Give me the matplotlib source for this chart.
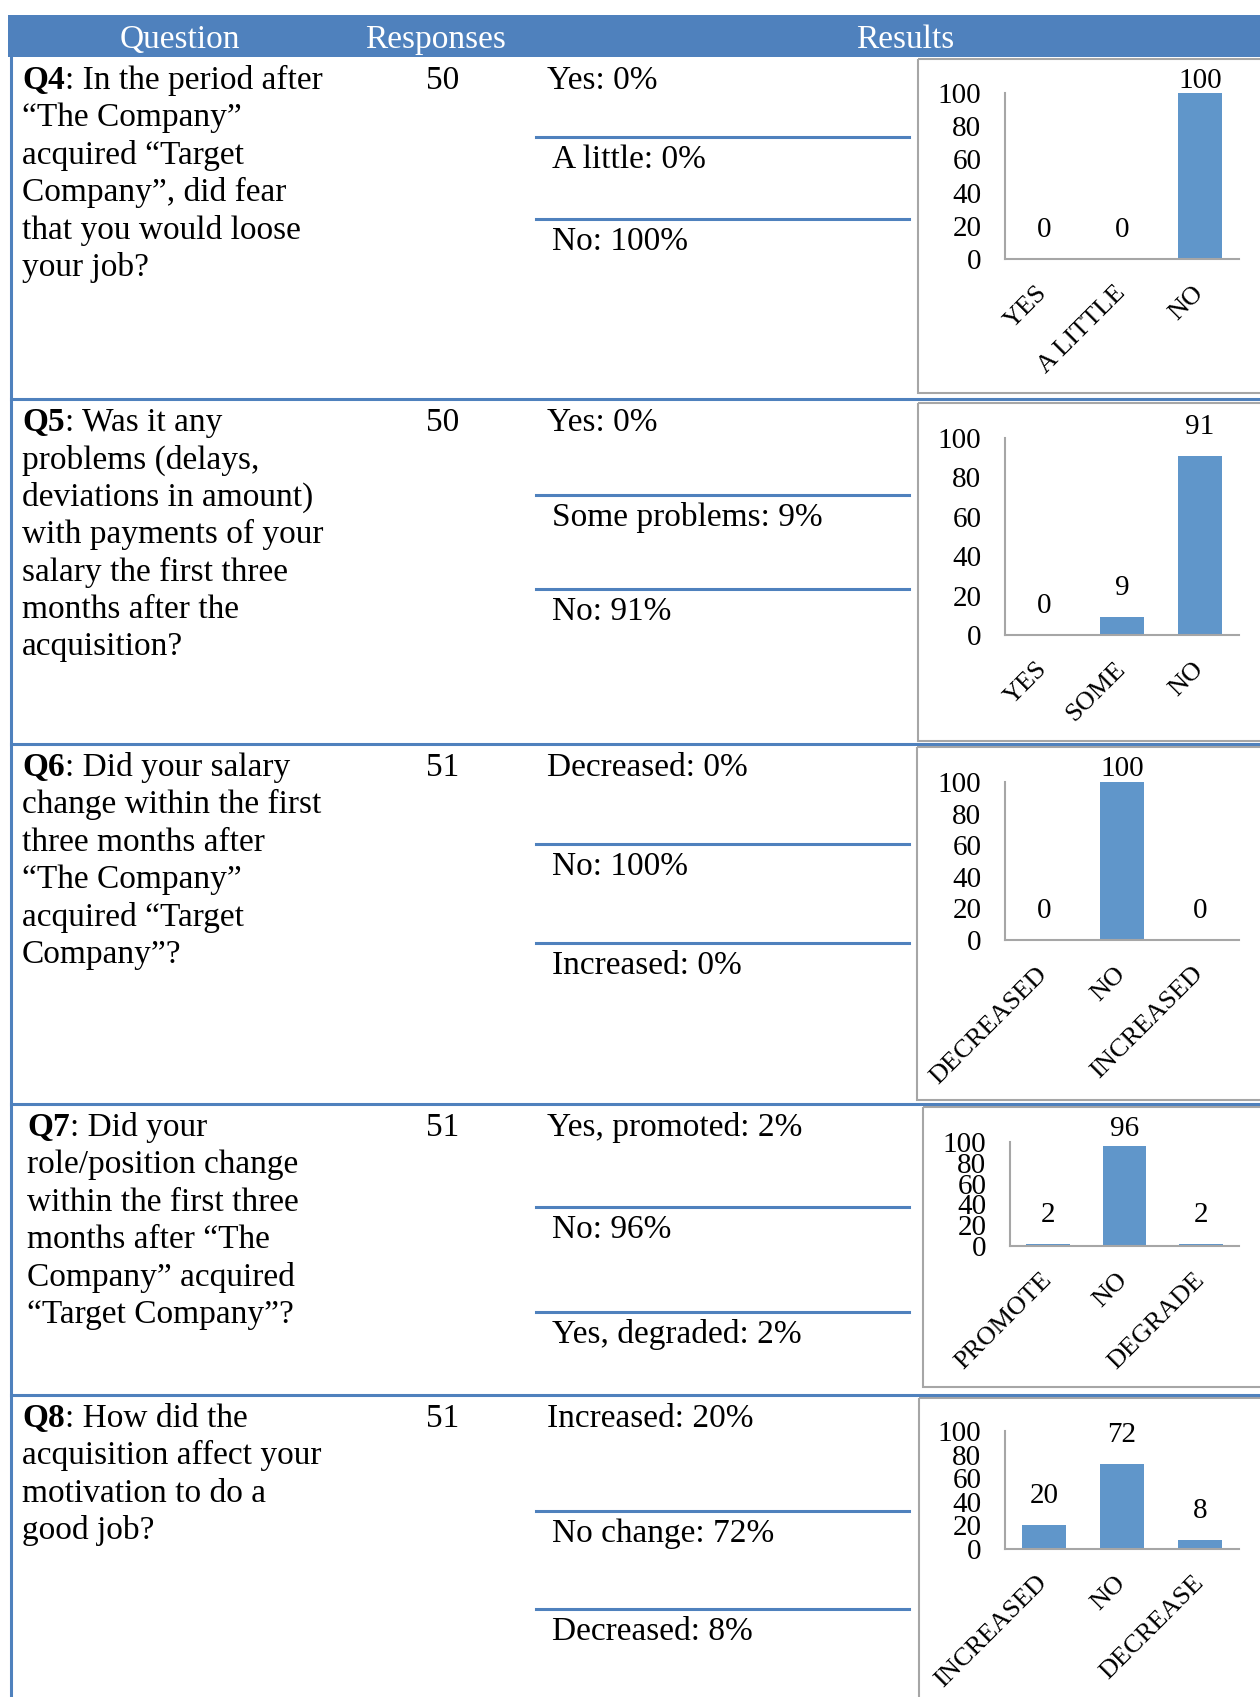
import matplotlib
matplotlib.use("Agg")
import matplotlib.pyplot as plt
from matplotlib.patches import Rectangle

plt.rcParams['font.family'] = ['Liberation Serif', 'DejaVu Serif']

# ---- data ----
q_ids = ["Q4", "Q5", "Q6", "Q7", "Q8"]
q_lines = [
    [": In the period after", "“The Company”", "acquired “Target", "Company”, did fear",
     "that you would loose", "your job?"],
    [": Was it any", "problems (delays,", "deviations in amount)", "with payments of your",
     "salary the first three", "months after the", "acquisition?"],
    [": Did your salary", "change within the first", "three months after", "“The Company”",
     "acquired “Target", "Company”?"],
    [": Did your", "role/position change", "within the first three", "months after “The",
     "Company” acquired", "“Target Company”?"],
    [": How did the", "acquisition affect your", "motivation to do a", "good job?"],
]
responses = [50, 50, 51, 51, 51]
options = [
    ["Yes: 0%", "A little: 0%", "No: 100%"],
    ["Yes: 0%", "Some problems: 9%", "No: 91%"],
    ["Decreased: 0%", "No: 100%", "Increased: 0%"],
    ["Yes, promoted: 2%", "No: 96%", "Yes, degraded: 2%"],
    ["Increased: 20%", "No change: 72%", "Decreased: 8%"],
]
categories = [
    ["YES", "A LITTLE", "NO"],
    ["YES", "SOME", "NO"],
    ["DECREASED", "NO", "INCREASED"],
    ["PROMOTE", "NO", "DEGRADE"],
    ["INCREASED", "NO", "DECREASE"],
]
values = [
    [0, 0, 100],
    [0, 9, 91],
    [0, 100, 0],
    [2, 96, 2],
    [20, 72, 8],
]
yticks = [0, 20, 40, 60, 80, 100]

# ---- layout (pixels) ----
W, H = 1260, 1697
BLUE = '#4F81BD'
BAR = '#6096CA'
GRAY = '#A6A6A6'
row_tops = [57, 399, 744, 1104, 1395]
q_x = [22, 22, 22, 27, 22]
opt_seps = [[137, 219], [495, 589], [844, 943], [1207, 1312], [1511, 1609]]
boxes = [(918, 59, 393), (918, 403, 741), (917, 747, 1100), (923, 1107, 1387), (919, 1398, 1712)]
plots = [(1005, 1239, 93, 259), (1005, 1239, 438, 635), (1005, 1239, 782, 940),
         (1010, 1239, 1142, 1246), (1005, 1239, 1431, 1549)]
FS = 24
FS_NUM = 21
FS_CAT = 19
LS = 37.4

fig = plt.figure(figsize=(W / 100, H / 100), dpi=100)
ax0 = fig.add_axes([0, 0, 1, 1])
ax0.set_xlim(0, W)
ax0.set_ylim(H, 0)
ax0.axis('off')

# header
ax0.add_patch(Rectangle((8, 15), W - 8, 42, color=BLUE, lw=0))
for label, xc in [("Question", 180), ("Responses", 435), ("Results", 905)]:
    ax0.text(xc, 48, label, color='white', fontsize=FS, ha='center', va='baseline')

# left border + row separators
ax0.plot([11, 11], [57, H], color=BLUE, lw=2.2)
for y in row_tops[1:]:
    ax0.plot([11, W], [y, y], color=BLUE, lw=2.2)

renderer = fig.canvas.get_renderer()

for r in range(5):
    base = row_tops[r] + 32
    tb = ax0.text(q_x[r], base, q_ids[r], fontsize=FS, fontweight='bold', va='baseline')
    bb = tb.get_window_extent(renderer=renderer)
    ax0.text(bb.x1, base, q_lines[r][0], fontsize=FS, va='baseline')
    for i, line in enumerate(q_lines[r][1:], start=1):
        ax0.text(q_x[r], base + i * LS, line, fontsize=FS, va='baseline')

    ax0.text(426, base, str(responses[r]), fontsize=FS, va='baseline')

    ax0.text(547, base, options[r][0], fontsize=FS, va='baseline')
    for k, ys in enumerate(opt_seps[r]):
        ax0.plot([536, 909], [ys, ys], color=BLUE, lw=2.2)
        ax0.text(552, ys + 31, options[r][k + 1], fontsize=FS, va='baseline')

    bx, by0, by1 = boxes[r]
    ax0.add_patch(Rectangle((bx, by0), W + 20 - bx, by1 - by0, fill=False,
                            edgecolor=GRAY, lw=1.5))

    # bar chart
    px0, px1, pt, pb = plots[r]
    ax = fig.add_axes([px0 / W, 1 - pb / H, (px1 - px0) / W, (pb - pt) / H])
    ax.patch.set_alpha(0)
    xs = range(len(categories[r]))
    ax.bar(xs, values[r], width=0.57, color=BAR)
    ax.set_xlim(-0.5, 2.5)
    ax.set_ylim(0, 100)
    ax.set_yticks(yticks)
    ax.set_yticklabels([str(t) for t in yticks], fontsize=FS_NUM, va='center_baseline')
    ax.set_xticks(list(xs))
    ax.set_xticklabels(categories[r], fontsize=FS_CAT, rotation=45, ha='right',
                       va='center', rotation_mode='anchor')
    ax.tick_params(axis='y', length=0, pad=17)
    ax.tick_params(axis='x', length=0, pad=22)
    for s in ['top', 'right']:
        ax.spines[s].set_visible(False)
    for s in ['left', 'bottom']:
        ax.spines[s].set_color(GRAY)
        ax.spines[s].set_linewidth(1.5)
    hpx = pb - pt
    for i, v in enumerate(values[r]):
        top_px = pb - v / 100 * hpx
        lab_px = max(top_px - 29, by0 + 22)
        ax.text(i, (pb - lab_px) / hpx * 100, str(v), fontsize=FS_NUM,
                ha='center', va='center', clip_on=False)

fig.savefig("out.png", dpi=100)
